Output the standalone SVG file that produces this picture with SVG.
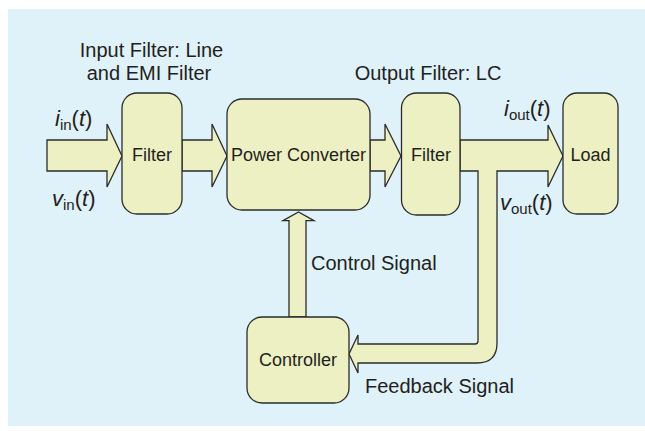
<svg xmlns="http://www.w3.org/2000/svg" width="645" height="431" viewBox="0 0 645 431">
<style>
.shape{fill:#ecf0c2;stroke:#2b2b2b;stroke-width:1.3;stroke-linejoin:miter}
.t{font-family:"Liberation Sans",Arial,Helvetica,sans-serif;fill:#231f20}
.lbl{font-size:20px}
.var{font-size:22px}
.box{font-size:18px;text-anchor:middle}
.it{font-style:italic}
.sub{font-size:15px;font-style:normal}
</style>
<rect x="0" y="0" width="645" height="431" fill="#ffffff"/>
<rect x="8" y="9" width="637" height="417" fill="#dff1f9"/>
<g id="connectors">
<path class="shape" d="M47 140H107V124L122 156L107 187V171H47Z"/>
<path class="shape" d="M182 140H212V124L227 156L212 187V171H182Z"/>
<path class="shape" d="M370 140H385V124L401 156L385 187V171H370Z"/>
<path class="shape" d="M460 140H548V125L563 156L548 187V171H497V343Q497 363 477 363H358V373L349 354L358 335V344H475Q478 344 478 341V171H460Z"/>
<path class="shape" d="M289 317V220.7H283L298.5 212L314 220.7H306V317Z"/>
</g>
<g id="input-filter">
<rect class="shape" x="122" y="93" width="60" height="121" rx="15"/>
<text class="t box" x="152" y="161">Filter</text>
</g>
<g id="power-converter">
<rect class="shape" x="227" y="99" width="143" height="111" rx="15"/>
<text class="t box" x="298.5" y="161">Power Converter</text>
</g>
<g id="output-filter">
<rect class="shape" x="401.5" y="93" width="58.5" height="122" rx="15"/>
<text class="t box" x="431" y="161">Filter</text>
</g>
<g id="load">
<rect class="shape" x="563" y="93" width="55" height="121" rx="14"/>
<text class="t box" x="590.5" y="161">Load</text>
</g>
<g id="controller">
<rect class="shape" x="247" y="317" width="102" height="86" rx="15"/>
<text class="t box" x="298" y="366">Controller</text>
</g>
<g id="labels">
<text class="t lbl" x="151.5" y="57" text-anchor="middle">Input Filter: Line</text>
<text class="t lbl" x="149" y="80" text-anchor="middle">and EMI Filter</text>
<text class="t lbl" x="428" y="80" text-anchor="middle">Output Filter: LC</text>
<text class="t lbl" x="311" y="270">Control Signal</text>
<text class="t lbl" x="365" y="393">Feedback Signal</text>
<text class="t var" x="55" y="126"><tspan class="it">i</tspan><tspan class="sub" dy="4">in</tspan><tspan dy="-4">(</tspan><tspan class="it">t</tspan>)</text>
<text class="t var" x="52" y="206"><tspan class="it">v</tspan><tspan class="sub" dy="4">in</tspan><tspan dy="-4">(</tspan><tspan class="it">t</tspan>)</text>
<text class="t var" x="504" y="116"><tspan class="it">i</tspan><tspan class="sub" dy="4">out</tspan><tspan dy="-4">(</tspan><tspan class="it">t</tspan>)</text>
<text class="t var" x="500" y="210"><tspan class="it">v</tspan><tspan class="sub" dy="4">out</tspan><tspan dy="-4">(</tspan><tspan class="it">t</tspan>)</text>
</g>
</svg>
